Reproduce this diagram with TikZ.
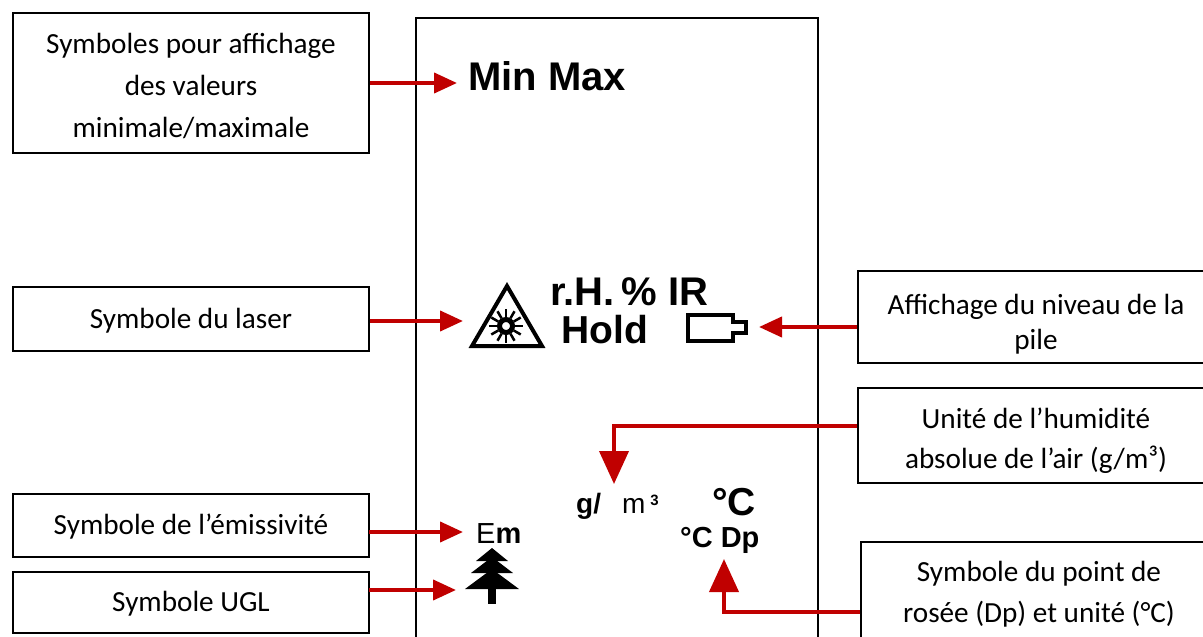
\documentclass[tikz,border=0pt]{standalone}
\usepackage{fontspec}
\setmainfont{Carlito}
\newfontfamily\symfont{Liberation Sans}
\usetikzlibrary{arrows.meta}
\definecolor{arrowred}{HTML}{C00000}
\newcommand{\topgap}[1]{\rule{0pt}{#1pt}}
\tikzset{
    labelbox/.style={draw, line width=1.5pt, align=center, inner sep=0pt, minimum width=356pt, font=\fontsize{29.2}{#1}\selectfont},
    labelbox/.default=42,
    symtext/.style={anchor=base west, inner sep=0pt, font=\symfont\fontsize{#1}{#1}\selectfont},
    smalltip/.style={draw=arrowred, line width=4pt, -{Triangle[length=23pt, width=20pt, fill=arrowred]}},
    bigtip/.style={draw=arrowred, line width=4pt, -{Triangle[length=33pt, width=29pt, fill=arrowred]}},
}
\begin{document}
\begin{tikzpicture}[x=1pt, y=-1pt]
    \path[use as bounding box, clip] (0,0) rectangle (1203,637);
    % Display outline
    \draw[line width=1.5pt] (416,650) -- (416,18) -- (818,18) -- (818,650);
    % Left boxes
    \node[labelbox, minimum height=140pt] (minbox) at (191,83) {\topgap{26}Symboles pour affichage\\des valeurs\\minimale/maximale};
    \node[labelbox, minimum height=64pt] (laserbox) at (191,319) {\topgap{23}Symbole du laser};
    \node[labelbox, minimum height=63pt] (embox) at (191,525.5) {\topgap{23}Symbole de l’émissivité};
    \node[labelbox, minimum height=61pt] (uglbox) at (191,602.5) {\topgap{23}Symbole UGL};
    % Right boxes
    \node[labelbox=35, minimum height=92pt] (pilebox) at (1036,317) {\topgap{35}Affichage du niveau de la\\pile};
    \node[labelbox=40, minimum height=95pt] (unitbox) at (1036,435.5) {\topgap{31}Unité de l’humidité\\absolue de l’air (g/m³)};
    \node[labelbox=41, minimum height=100pt] (dpbox) at (1039,592) {\topgap{25}Symbole du point de\\rosée (Dp) et unité (°C)};
    % Display symbols
    \node[symtext=40] (minmax) at (468,90) {\textbf{Min Max}};
    \node[symtext=40] (rhir) at (550,305) {\textbf{r.H.\,\% IR}};
    \node[symtext=39] (hold) at (561,343) {\textbf{Hold}};
    \node[symtext=29] (em) at (476,543) {E\textbf{m}};
    \node[symtext=28] (gm) at (576,513) {\textbf{g/}\hspace{21pt}m\hspace{5pt}\raisebox{8pt}{\fontsize{15}{15}\selectfont\textbf{3}}};
    \node[symtext=39] (deg) at (712,515) {\textbf{°C}};
    \node[symtext=29] (dp) at (680,547) {\textbf{°C Dp}};
    % Laser sign
    \draw[line width=4pt, line join=miter] (507,286) -- (472,346) -- (542,346) -- cycle;
    \draw[line width=5pt] (506,326) circle (6.5pt);
    \foreach \ang in {0,30,...,330}
        \draw[line width=2.5pt] (506,326) ++(\ang:9) -- ++(\ang:8);
    % Battery
    \draw[line width=4pt] (688,315) -- (733,315) -- (733,322) -- (746,322) -- (746,333) -- (733,333) -- (733,341) -- (688,341) -- cycle;
    % Tree
    \fill (492,548) -- (508,561) -- (476,561) -- cycle;
    \fill (492,557) -- (513,573) -- (471,573) -- cycle;
    \fill (492,569) -- (519,589) -- (465,589) -- cycle;
    \fill (488,585) rectangle (496,604);
    % Connectors
    \coordinate (mintip) at (457,83);
    \coordinate (lasertip) at (463,321);
    \coordinate (pilestart) at (858,327);
    \coordinate (piletip) at (759,327);
    \coordinate (emstart) at (369,532);
    \coordinate (emtip) at (463,532);
    \coordinate (uglstart) at (369,590);
    \coordinate (ugltip) at (456,590);
    \coordinate (unitbend) at (614,426);
    \coordinate (unittip) at (614,484);
    \coordinate (dpbend) at (724,612);
    \coordinate (dptip) at (724,559);
    \draw[smalltip] (minbox.east |- mintip) -- (mintip);
    \draw[smalltip] (laserbox.east |- lasertip) -- (lasertip);
    \draw[smalltip] (pilebox.west |- pilestart) -- (piletip);
    \draw[smalltip] (emstart) -- (emtip);
    \draw[smalltip] (uglstart) -- (ugltip);
    \draw[bigtip] (unitbox.west |- unitbend) -- (unitbend) -- (unittip);
    \draw[bigtip] (dpbox.west |- dpbend) -- (dpbend) -- (dptip);
\end{tikzpicture}
\end{document}
